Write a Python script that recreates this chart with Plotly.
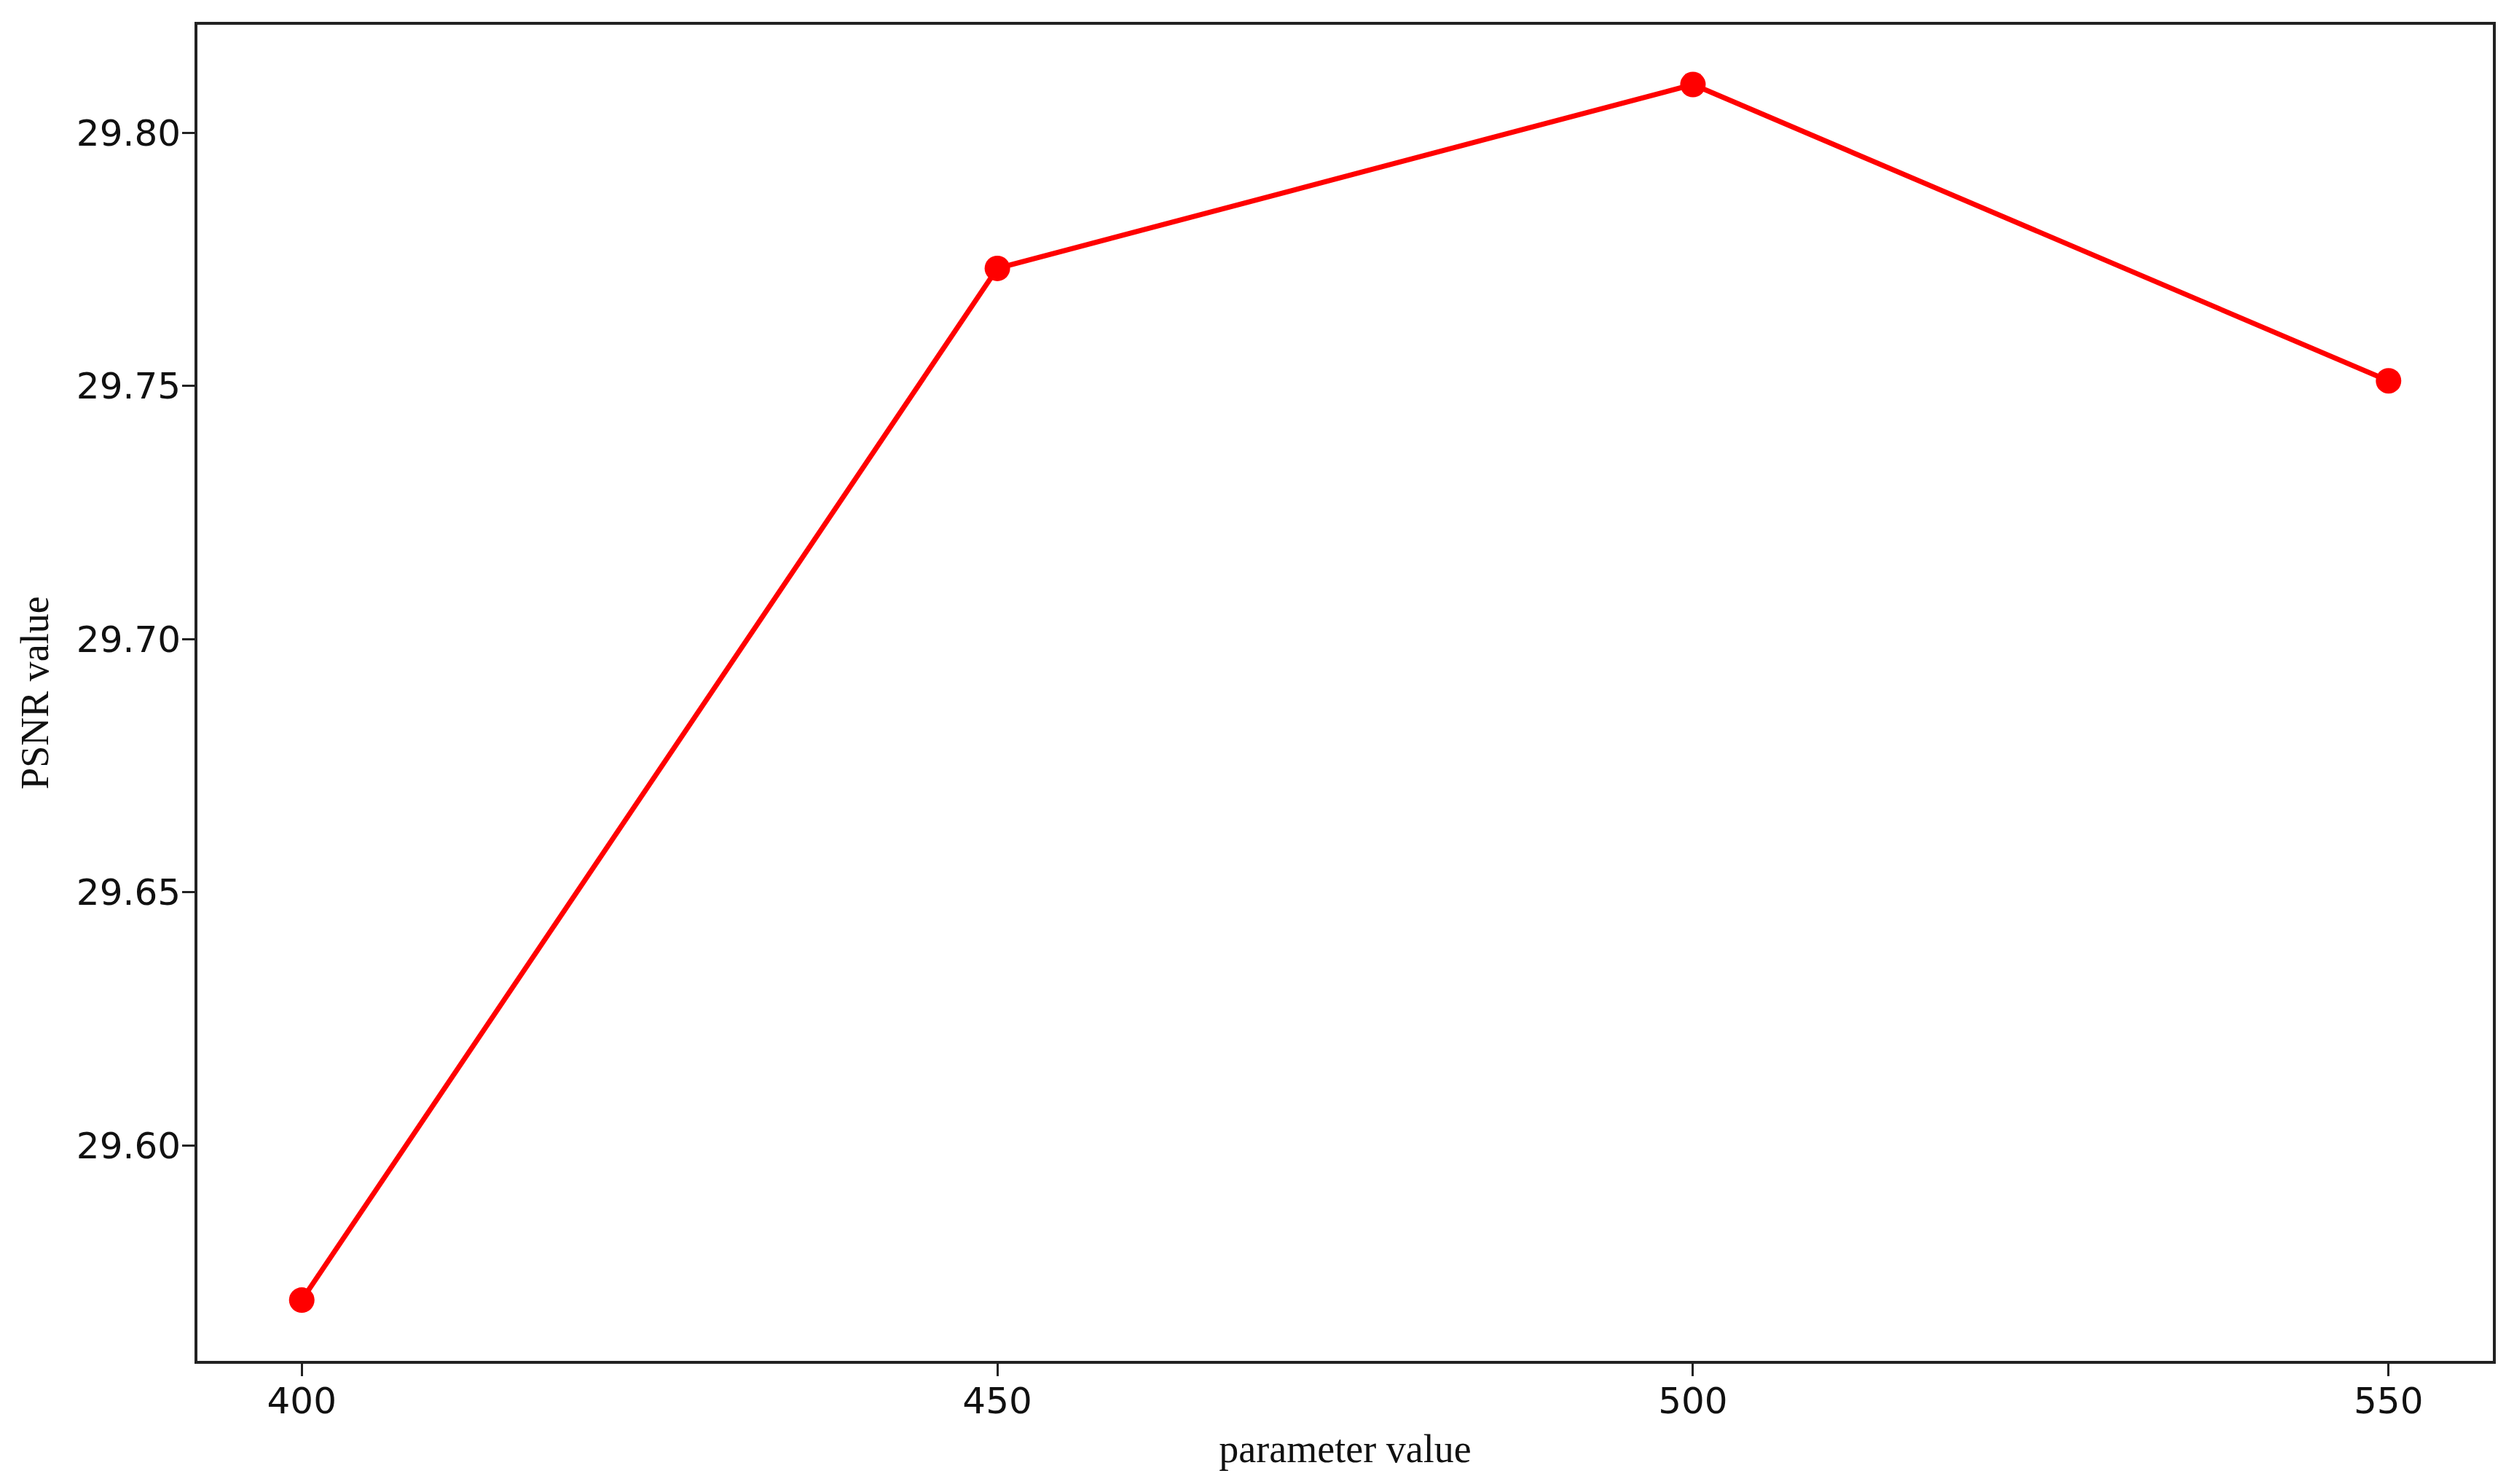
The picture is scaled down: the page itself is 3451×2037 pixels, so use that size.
# -*- coding: utf-8 -*-
"""
PSNR value against parameter value, single red line with markers.
"""
import plotly.graph_objects as go


PARAMETER_VALUES = [400, 450, 500, 550]
PSNR_VALUES = [29.5695, 29.7732, 29.8095, 29.7510]

X_TICKS = [400, 450, 500, 550]
Y_TICKS = [29.60, 29.65, 29.70, 29.75, 29.80]

X_TITLE = "parameter value"
Y_TITLE = "PSNR value"


def psnr_figure() -> go.Figure:
    figure = go.Figure()
    figure.add_scatter(x=PARAMETER_VALUES,
                       y=PSNR_VALUES,
                       mode="lines+markers",
                       line={"color": "#ff0000", "width": 7},
                       marker={"color": "#ff0000", "size": 35},
                       showlegend=False)

    axis_style = dict(showline=True,
                      linecolor="#222222",
                      linewidth=4,
                      mirror=True,
                      showgrid=False,
                      zeroline=False,
                      automargin=False,
                      ticks="outside",
                      ticklen=17,
                      tickwidth=3,
                      tickcolor="#222222",
                      tickfont={"family": "DejaVu Sans",
                                "size": 50,
                                "color": "#111111"})
    title_font = {"family": "Liberation Serif",
                  "size": 54,
                  "color": "#111111"}

    figure.update_xaxes(range=[392.5, 557.5],
                        tickvals=X_TICKS,
                        ticklabelstandoff=-9,
                        title={"text": X_TITLE,
                               "font": title_font,
                               "standoff": 19},
                        **axis_style)
    figure.update_yaxes(range=[29.5575, 29.8213],
                        tickvals=Y_TICKS,
                        tickformat=".2f",
                        ticklabelstandoff=-8,
                        title={"text": Y_TITLE,
                               "font": title_font,
                               "standoff": 22},
                        **axis_style)

    # page body adds an 8px offset, so the figure is sized to fit inside it
    figure.update_layout(width=3435,
                         height=2021,
                         margin={"l": 263, "r": 21, "t": 26, "b": 161},
                         paper_bgcolor="white",
                         plot_bgcolor="white")
    return figure


if __name__ == "__main__":
    fig = psnr_figure()
    fig.write_html("out.html")
